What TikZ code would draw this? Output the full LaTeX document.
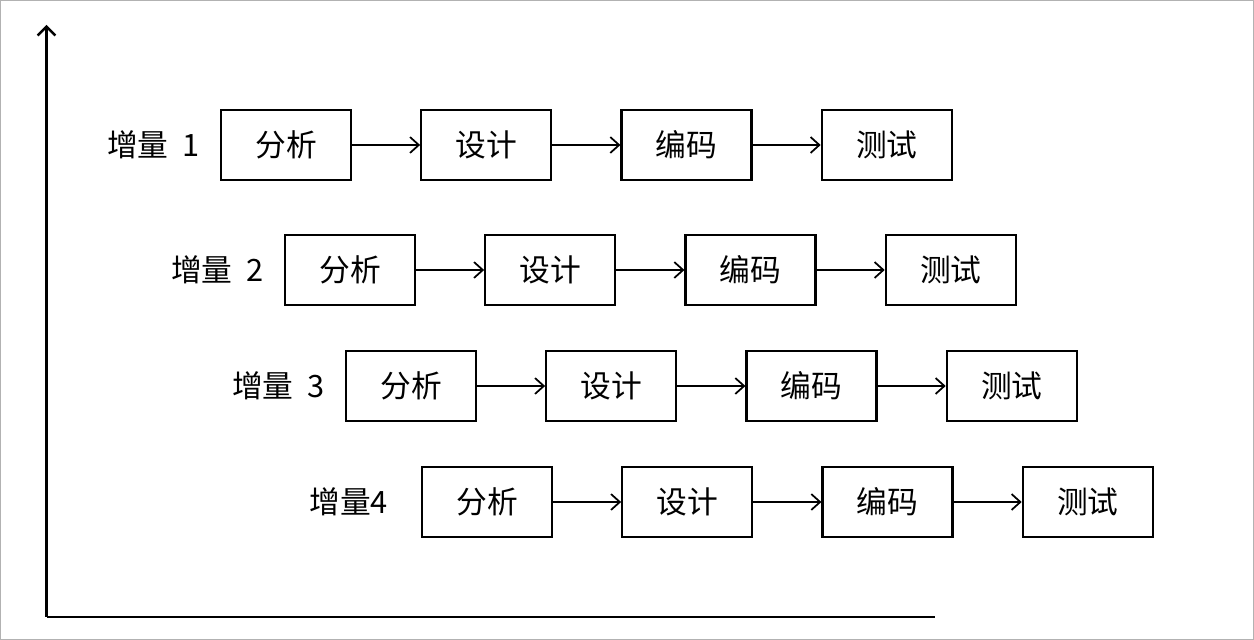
\documentclass[tikz,border=0pt]{standalone}
\usepackage{fontspec}
\setmainfont{Noto Sans CJK SC}
\usetikzlibrary{arrows.meta, positioning}

\begin{document}
\begin{tikzpicture}[
        node distance=1.36cm,
        stage/.style={draw, line width=1.3pt, minimum width=2.6cm, minimum height=1.4cm,
          inner sep=0pt, font=\fontsize{17.5}{20}\selectfont},
        lbl/.style={font=\fontsize{17.5}{20}\selectfont, inner sep=0pt},
        flow/.style={-{Straight Barb[length=5pt, width=9pt]}, line width=1pt},
      ]
      \useasboundingbox (0,0) rectangle (25.08,-12.8);
      \draw[gray!60, line width=0.6pt] (0.01,-0.01) rectangle (25.07,-12.79);
      % axes
      \coordinate (o) at (0.93,-12.34);
      \coordinate (ytop) at (0.93,-0.5);
      \coordinate (xend) at (18.7,-12.34);
      \draw[-{Straight Barb[length=5pt, width=10pt]}, line width=1.4pt] (o) -- (ytop);
      \draw[line width=1.6pt] (o) -- (xend);
      % increments
      \foreach \i/\x/\y/\gap/\name in {1/5.72/-2.9/0.4/{增量\ \ 1}, 2/7.0/-5.4/0.4/{增量\ \ 2}, 3/8.22/-7.72/0.4/{增量\ \ 3}, 4/9.74/-10.04/0.65/{增量4}} {
        \node[stage] (a\i) at (\x,\y) {分析};
        \node[stage, right=of a\i] (d\i) {设计};
        \node[stage, right=of d\i] (c\i) {编码};
        \node[stage, right=of c\i] (t\i) {测试};
        \node[lbl, left=\gap cm of a\i] (n\i) {\name};
        \draw[flow] (a\i) -- (d\i);
        \draw[flow] (d\i) -- (c\i);
        \draw[flow] (c\i) -- (t\i);
      }
    \end{tikzpicture}
\end{document}
